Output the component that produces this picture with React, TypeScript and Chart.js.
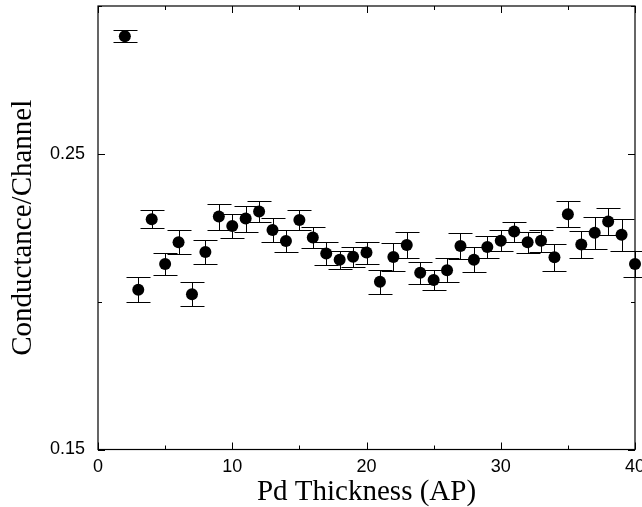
import React, { useEffect, useRef } from 'react';
import { Chart, registerables } from 'chart.js';

Chart.register(...registerables);

const thickness = [2, 3, 4, 5, 6, 7, 8, 9, 10, 11, 12, 13, 14, 15, 16, 17, 18, 19, 20, 21, 22, 23, 24, 25, 26, 27, 28, 29, 30, 31, 32, 33, 34, 35, 36, 37, 38, 39, 40];
const conductance = [
  0.2898, 0.2040, 0.2279, 0.2127, 0.2201, 0.2025, 0.2168, 0.2288, 0.2256, 0.2281,
  0.2305, 0.2242, 0.2205, 0.2276, 0.2217, 0.2163, 0.2142, 0.2152, 0.2166, 0.2067,
  0.2151, 0.2192, 0.2098, 0.2073, 0.2106, 0.2188, 0.2142, 0.2185, 0.2206, 0.2237,
  0.2201, 0.2206, 0.2150, 0.2296, 0.2193, 0.2233, 0.2271, 0.2226, 0.2127,
];
const errors = [
  0.0021, 0.0042, 0.0030, 0.0036, 0.0040, 0.0040, 0.0040, 0.0044, 0.0042, 0.0044,
  0.0036, 0.0040, 0.0038, 0.0034, 0.0037, 0.0038, 0.0030, 0.0034, 0.0037, 0.0040,
  0.0046, 0.0045, 0.0037, 0.0034, 0.0040, 0.0043, 0.0042, 0.0037, 0.0035, 0.0034,
  0.0036, 0.0037, 0.0045, 0.0043, 0.0046, 0.0054, 0.0045, 0.0053, 0.0044,
];
const xMajorTicks = [0, 10, 20, 30, 40];
const xMinorTicks = [5, 15, 25, 35];
const yLabelTicks = [0.15, 0.25];
const yMinorTicks = [0.2, 0.3];

const frameAndErrorPlugin = {
  id: 'frameAndErrors',
  beforeDatasetsDraw(chart: any) {
    const { ctx, chartArea, scales } = chart;
    const x = scales.x;
    const y = scales.y;
    ctx.save();
    ctx.strokeStyle = '#000';
    ctx.lineWidth = 1.2;
    ctx.strokeRect(chartArea.left, chartArea.top, chartArea.right - chartArea.left, chartArea.bottom - chartArea.top);
    ctx.lineWidth = 1;
    const drawX = (vals: number[], len: number) => {
      vals.forEach((v) => {
        const px = Math.round(x.getPixelForValue(v)) + 0.5;
        ctx.beginPath();
        ctx.moveTo(px, chartArea.bottom);
        ctx.lineTo(px, chartArea.bottom - len);
        ctx.moveTo(px, chartArea.top);
        ctx.lineTo(px, chartArea.top + len);
        ctx.stroke();
      });
    };
    const drawY = (vals: number[], len: number) => {
      vals.forEach((v) => {
        const py = Math.round(y.getPixelForValue(v)) + 0.5;
        ctx.beginPath();
        ctx.moveTo(chartArea.left, py);
        ctx.lineTo(chartArea.left + len, py);
        ctx.moveTo(chartArea.right, py);
        ctx.lineTo(chartArea.right - len, py);
        ctx.stroke();
      });
    };
    drawX(xMajorTicks, 7);
    drawX(xMinorTicks, 4);
    drawY(yLabelTicks, 7);
    drawY(yMinorTicks, 4);
    thickness.forEach((t, i) => {
      const px = Math.round(x.getPixelForValue(t)) + 0.5;
      const yTop = Math.round(y.getPixelForValue(conductance[i] + errors[i])) + 0.5;
      const yBot = Math.round(y.getPixelForValue(conductance[i] - errors[i])) + 0.5;
      ctx.beginPath();
      ctx.moveTo(px, yTop);
      ctx.lineTo(px, yBot);
      ctx.moveTo(px - 12, yTop);
      ctx.lineTo(px + 12, yTop);
      ctx.moveTo(px - 12, yBot);
      ctx.lineTo(px + 12, yBot);
      ctx.stroke();
    });
    ctx.restore();
  },
};

export default function App() {
  const ref = useRef<HTMLCanvasElement | null>(null);
  useEffect(() => {
    if (!ref.current) return;
    const chart = new Chart(ref.current, {
      type: 'scatter',
      data: {
        datasets: [
          {
            data: thickness.map((t, i) => ({ x: t, y: conductance[i] })),
            pointRadius: 6,
            pointHoverRadius: 6,
            backgroundColor: '#000',
            borderColor: '#000',
            borderWidth: 0,
            clip: false as any,
            showLine: false,
          },
        ],
      },
      options: {
        responsive: false,
        animation: false,
        layout: { padding: { left: 0, right: 7, top: 4.5, bottom: 0 } },
        plugins: { legend: { display: false }, tooltip: { enabled: false } },
        scales: {
          x: {
            type: 'linear',
            position: 'bottom',
            min: 0,
            max: 40,
            afterBuildTicks: (s: any) => {
              s.ticks = xMajorTicks.map((v) => ({ value: v }));
            },
            ticks: {
              autoSkip: false,
              maxRotation: 0,
              padding: 7,
              color: '#000',
              font: { family: '"Liberation Sans", Arial, sans-serif', size: 18 },
              callback: (v: any) => String(v),
            },
            grid: { display: false, drawTicks: false },
            border: { display: false },
            title: {
              display: true,
              text: 'Pd Thickness (AP)',
              color: '#000',
              font: { family: '"Liberation Serif", "Times New Roman", serif', size: 29, lineHeight: 1 },
              padding: { top: 0, bottom: 0 },
            },
            afterFit: (s: any) => {
              s.height = 57.5;
              s.paddingLeft = 0;
              s.paddingRight = 0;
            },
          },
          y: {
            type: 'linear',
            min: 0.15,
            max: 0.3,
            afterBuildTicks: (s: any) => {
              s.ticks = yLabelTicks.map((v) => ({ value: v }));
            },
            ticks: {
              padding: 13,
              color: '#000',
              font: { family: '"Liberation Sans", Arial, sans-serif', size: 18 },
              callback: (v: any) => Number(v).toFixed(2),
            },
            grid: { display: false, drawTicks: false },
            border: { display: false },
            title: {
              display: true,
              text: 'Conductance/Channel',
              color: '#000',
              font: { family: '"Liberation Serif", "Times New Roman", serif', size: 29, lineHeight: 1 },
              padding: { top: 9, bottom: 0 },
            },
            afterFit: (s: any) => {
              s.width = 98;
              s.paddingTop = 0;
              s.paddingBottom = 0;
            },
          },
        },
      } as any,
      plugins: [frameAndErrorPlugin],
    });
    return () => chart.destroy();
  }, []);
  return (
    <div style={{ position: 'absolute', left: 0, top: 0, width: 642, height: 507, background: '#fff' }}>
      <canvas ref={ref} width={642} height={507} style={{ display: 'block' }} />
    </div>
  );
}
